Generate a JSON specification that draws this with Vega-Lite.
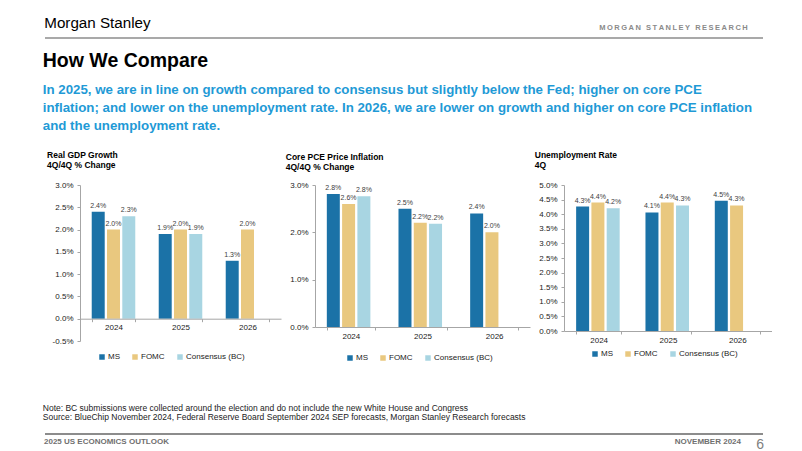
{
  "$schema": "https://vega.github.io/schema/vega-lite/v6.json",
  "background": "white",
  "padding": {"left": 42, "top": 15, "right": 0, "bottom": 0},
  "config": {
    "locale": {"number": {"decimal": ".", "thousands": ",", "grouping": [3], "currency": ["$", ""], "minus": "-"}},
    "view": {"stroke": null},
    "font": "Liberation Sans, Arial, sans-serif",
    "axis": {"labelFont": "Liberation Sans, Arial, sans-serif", "labelFontSize": 8, "labelColor": "#222222", "domainColor": "#a6a6a6", "tickColor": "#a6a6a6", "tickSize": 3, "grid": false, "title": null},
    "legend": {"labelFont": "Liberation Sans, Arial, sans-serif"}
  },
  "datasets": {
    "blank": [{"k": 0}],
    "gdp": [
      {"year": "2024", "series": "MS", "value": 0.024},
      {"year": "2024", "series": "FOMC", "value": 0.020},
      {"year": "2024", "series": "Consensus (BC)", "value": 0.023},
      {"year": "2025", "series": "MS", "value": 0.019},
      {"year": "2025", "series": "FOMC", "value": 0.020},
      {"year": "2025", "series": "Consensus (BC)", "value": 0.019},
      {"year": "2026", "series": "MS", "value": 0.013},
      {"year": "2026", "series": "FOMC", "value": 0.020}
    ],
    "pce": [
      {"year": "2024", "series": "MS", "value": 0.0281},
      {"year": "2024", "series": "FOMC", "value": 0.026},
      {"year": "2024", "series": "Consensus (BC)", "value": 0.0276},
      {"year": "2025", "series": "MS", "value": 0.025},
      {"year": "2025", "series": "FOMC", "value": 0.022},
      {"year": "2025", "series": "Consensus (BC)", "value": 0.0218},
      {"year": "2026", "series": "MS", "value": 0.024},
      {"year": "2026", "series": "FOMC", "value": 0.020}
    ],
    "unemp": [
      {"year": "2024", "series": "MS", "value": 0.0426},
      {"year": "2024", "series": "FOMC", "value": 0.044},
      {"year": "2024", "series": "Consensus (BC)", "value": 0.042},
      {"year": "2025", "series": "MS", "value": 0.0406},
      {"year": "2025", "series": "FOMC", "value": 0.044},
      {"year": "2025", "series": "Consensus (BC)", "value": 0.043},
      {"year": "2026", "series": "MS", "value": 0.0446},
      {"year": "2026", "series": "FOMC", "value": 0.043}
    ]
  },
  "spacing": 11,
  "vconcat": [
    {
      "bounds": "flush",
      "spacing": 0,
      "hconcat": [
        {
          "width": 500, "height": 1,
          "data": {"name": "blank"},
          "title": {"text": "Morgan Stanley", "anchor": "start", "fontSize": 15.2, "fontWeight": "normal", "color": "#000000", "offset": 6},
          "mark": {"type": "rule", "color": "#8c8c8c", "strokeWidth": 1.5},
          "encoding": {"y": {"datum": 0, "type": "quantitative", "scale": {"domain": [0, 1]}, "axis": null}}
        },
        {
          "width": 218, "height": 1,
          "data": {"name": "blank"},
          "title": {"text": "M\u2009O\u2009R\u2009G\u2009A\u2009N\u2009 \u2009S\u2009T\u2009A\u2009N\u2009L\u2009E\u2009Y\u2009 \u2009R\u2009E\u2009S\u2009E\u2009A\u2009R\u2009C\u2009H", "anchor": "end", "dx": -16, "fontSize": 7.5, "fontWeight": "bold", "color": "#8a8a8a", "offset": 6},
          "mark": {"type": "rule", "color": "#8c8c8c", "strokeWidth": 1.5},
          "encoding": {"y": {"datum": 0, "type": "quantitative", "scale": {"domain": [0, 1]}, "axis": null}}
        }
      ]
    },
    {
      "title": {
        "text": [
          "Note: BC submissions were collected around the election and do not include the new White House and Congress",
          "Source: BlueChip November 2024, Federal Reserve Board September 2024 SEP forecasts, Morgan Stanley Research forecasts"
        ],
        "orient": "bottom", "anchor": "start", "fontSize": 8.5, "fontWeight": "normal", "lineHeight": 9, "color": "#222222", "offset": 42
      },
      "vconcat": [
        {
          "title": {
            "text": "How We Compare", "anchor": "start",
            "fontSize": 19.5, "fontWeight": "bold", "color": "#000000",
            "subtitle": [
              "In 2025, we are in line on growth compared to consensus but slightly below the Fed; higher on core PCE",
              "inflation; and lower on the unemployment rate. In 2026, we are lower on growth and higher on core PCE inflation",
              "and the unemployment rate."
            ],
            "subtitleColor": "#1f9ad6",
            "subtitleFontSize": 13.3, "subtitleFontWeight": "bold", "subtitleLineHeight": 18, "subtitlePadding": 12,
            "offset": 17
          },
          "bounds": "flush",
          "spacing": 34,
          "resolve": {"scale": {"color": "independent"}, "legend": {"color": "independent"}},
          "hconcat": [
            {
              "width": 1, "height": 1,
              "data": {"name": "blank"},
              "mark": {"type": "point", "opacity": 0},
              "encoding": {}
            },
            {
              "width": 201, "height": 156,
              "data": {"name": "gdp"},
              "title": {"text": ["Real GDP Growth", "4Q/4Q % Change"], "anchor": "start", "fontSize": 8.5, "fontWeight": "bold", "lineHeight": 10, "dx": -5, "offset": 12, "color": "#000000"},
              "encoding": {
                "x": {"field": "year", "type": "nominal", "scale": {"paddingInner": 0.35, "paddingOuter": 0.175},
                      "axis": {"labelAngle": 0, "tickBand": "extent", "labelPadding": 2, "offset": -22.3, "zindex": 1}},
                "xOffset": {"field": "series", "type": "nominal", "scale": {"domain": ["MS", "FOMC", "Consensus (BC)"], "paddingInner": 0.15}},
                "y": {"field": "value", "type": "quantitative", "scale": {"domain": [-0.005, 0.03], "nice": false, "zero": false},
                      "axis": {"format": ".1%", "values": [-0.005, 0, 0.005, 0.01, 0.015, 0.02, 0.025, 0.03], "labelPadding": 4}}
              },
              "layer": [
                {
                  "mark": {"type": "bar"},
                  "encoding": {
                    "color": {"field": "series", "type": "nominal",
                      "scale": {"domain": ["MS", "FOMC", "Consensus (BC)"], "range": ["#1b72a7", "#e9c87f", "#a8d5e2"]},
                      "legend": {"orient": "none", "legendX": 18, "legendY": 168, "direction": "horizontal", "title": null, "symbolType": "square", "symbolSize": 30, "symbolStrokeWidth": 0, "labelFontSize": 8, "labelColor": "#222222", "columnPadding": 11, "labelOffset": 2}}
                  }
                },
                {
                  "mark": {"type": "text", "baseline": "bottom", "dy": -3, "fontSize": 7, "color": "#404040"},
                  "encoding": {"text": {"field": "value", "type": "quantitative", "format": ".1%"}}
                }
              ]
            },
            {
              "width": 215, "height": 142,
              "data": {"name": "pce"},
              "title": {"text": ["Core PCE Price Inflation", "4Q/4Q % Change"], "anchor": "start", "fontSize": 8.5, "fontWeight": "bold", "lineHeight": 10, "dx": -4, "offset": 10, "color": "#000000"},
              "encoding": {
                "x": {"field": "year", "type": "nominal", "scale": {"paddingInner": 0.33, "paddingOuter": 0.165},
                      "axis": {"labelAngle": 0, "tickBand": "extent", "labelPadding": 2}},
                "xOffset": {"field": "series", "type": "nominal", "scale": {"domain": ["MS", "FOMC", "Consensus (BC)"], "paddingInner": 0.15}},
                "y": {"field": "value", "type": "quantitative", "scale": {"domain": [0, 0.03], "nice": false},
                      "axis": {"format": ".1%", "values": [0, 0.01, 0.02, 0.03], "labelPadding": 4}}
              },
              "layer": [
                {
                  "mark": {"type": "bar"},
                  "encoding": {
                    "color": {"field": "series", "type": "nominal",
                      "scale": {"domain": ["MS", "FOMC", "Consensus (BC)"], "range": ["#1b72a7", "#e9c87f", "#a8d5e2"]},
                      "legend": {"orient": "none", "legendX": 31, "legendY": 169, "direction": "horizontal", "title": null, "symbolType": "square", "symbolSize": 30, "symbolStrokeWidth": 0, "labelFontSize": 8, "labelColor": "#222222", "columnPadding": 11, "labelOffset": 2}}
                  }
                },
                {
                  "mark": {"type": "text", "baseline": "bottom", "dy": -3, "fontSize": 7, "color": "#404040"},
                  "encoding": {"text": {"field": "value", "type": "quantitative", "format": ".1%"}}
                }
              ]
            },
            {
              "width": 208, "height": 146,
              "data": {"name": "unemp"},
              "title": {"text": ["Unemployment Rate", "4Q"], "anchor": "start", "fontSize": 8.5, "fontWeight": "bold", "lineHeight": 10, "dx": -4, "offset": 12, "color": "#000000"},
              "encoding": {
                "x": {"field": "year", "type": "nominal", "scale": {"paddingInner": 0.35, "paddingOuter": 0.175},
                      "axis": {"labelAngle": 0, "tickBand": "extent", "labelPadding": 2}},
                "xOffset": {"field": "series", "type": "nominal", "scale": {"domain": ["MS", "FOMC", "Consensus (BC)"], "paddingInner": 0.15}},
                "y": {"field": "value", "type": "quantitative", "scale": {"domain": [0, 0.05], "nice": false},
                      "axis": {"format": ".1%", "values": [0, 0.005, 0.01, 0.015, 0.02, 0.025, 0.03, 0.035, 0.04, 0.045, 0.05], "labelPadding": 4}}
              },
              "layer": [
                {
                  "mark": {"type": "bar"},
                  "encoding": {
                    "color": {"field": "series", "type": "nominal",
                      "scale": {"domain": ["MS", "FOMC", "Consensus (BC)"], "range": ["#1b72a7", "#e9c87f", "#a8d5e2"]},
                      "legend": {"orient": "none", "legendX": 27, "legendY": 165, "direction": "horizontal", "title": null, "symbolType": "square", "symbolSize": 30, "symbolStrokeWidth": 0, "labelFontSize": 8, "labelColor": "#222222", "columnPadding": 11, "labelOffset": 2}}
                  }
                },
                {
                  "mark": {"type": "text", "baseline": "bottom", "dy": -3, "fontSize": 7, "color": "#404040"},
                  "encoding": {"text": {"field": "value", "type": "quantitative", "format": ".1%"}}
                }
              ]
            }
          ]
        }
      ]
    },
    {
      "bounds": "flush",
      "spacing": 0,
      "hconcat": [
        {
          "width": 598, "height": 1,
          "data": {"name": "blank"},
          "title": {"text": "2025 US ECONOMICS OUTLOOK", "anchor": "start", "fontSize": 8, "fontWeight": "bold", "color": "#707070", "offset": -13},
          "mark": {"type": "rule", "color": "#8c8c8c", "strokeWidth": 2},
          "encoding": {"y": {"datum": 0, "type": "quantitative", "scale": {"domain": [0, 1]}, "axis": null}}
        },
        {
          "width": 97, "height": 1,
          "data": {"name": "blank"},
          "title": {"text": "NOVEMBER 2024", "anchor": "end", "fontSize": 8, "fontWeight": "bold", "color": "#707070", "offset": -13},
          "mark": {"type": "rule", "color": "#8c8c8c", "strokeWidth": 2},
          "encoding": {"y": {"datum": 0, "type": "quantitative", "scale": {"domain": [0, 1]}, "axis": null}}
        },
        {
          "width": 23, "height": 1,
          "data": {"name": "blank"},
          "title": {"text": "6", "anchor": "end", "fontSize": 14, "fontWeight": "normal", "color": "#808080", "offset": -19},
          "mark": {"type": "rule", "color": "#8c8c8c", "strokeWidth": 2},
          "encoding": {"y": {"datum": 0, "type": "quantitative", "scale": {"domain": [0, 1]}, "axis": null}}
        }
      ]
    }
  ]
}
